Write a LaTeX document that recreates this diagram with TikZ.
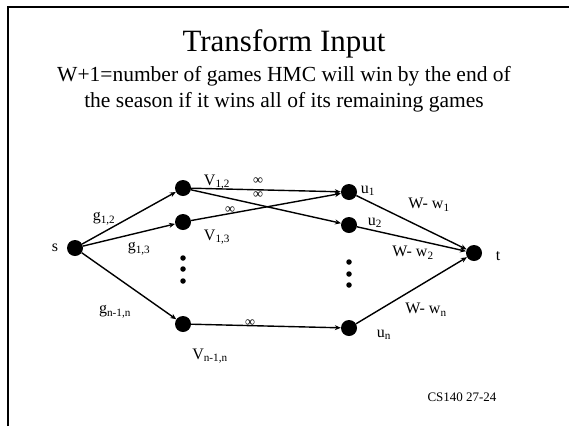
\documentclass[tikz,border=0pt]{standalone}
\usepackage{fontspec}
\setmainfont{Liberation Serif}
\usetikzlibrary{arrows.meta}
\begin{document}
\begin{tikzpicture}[x=1pt,y=-1pt,
  vertex/.style={circle,fill=black,inner sep=0pt,minimum size=16pt},
  smalldot/.style={circle,fill=black,inner sep=0pt,minimum size=5.5pt},
  flow/.style={line width=1.4pt,-{Stealth[length=6pt,width=5pt]}},
  lbl/.style={font=\fontsize{16}{18}\selectfont,inner sep=0pt},
  inf/.style={font=\fontsize{14}{16}\selectfont,inner sep=0pt}]
\useasboundingbox (0,0) rectangle (569,426);
% slide frame
\draw[line width=2pt] (8,426) -- (8,7) -- (569,7);
% headings
\node[font=\fontsize{31}{36}\selectfont] (title) at (284,44) {Transform Input};
\node[font=\fontsize{21.5}{26}\selectfont,align=center] (sub) at (284,89)
  {W+1=number of games HMC will win by the end of\\the season if it wins all of its remaining games};
% vertices
\node[vertex] (s) at (75,248) {};
\node[vertex] (v12) at (183,188) {};
\node[vertex] (v13) at (183,222) {};
\node[vertex] (vn) at (183,324) {};
\node[vertex] (u1) at (349,192) {};
\node[vertex] (u2) at (349,225) {};
\node[vertex] (un) at (349,328) {};
\node[vertex] (t) at (474,253) {};
% vertical ellipses
\node[smalldot] (d1) at (183,258) {};
\node[smalldot] (d2) at (183,269) {};
\node[smalldot] (d3) at (183,281) {};
\node[smalldot] (e1) at (349,262) {};
\node[smalldot] (e2) at (349,274) {};
\node[smalldot] (e3) at (349,285) {};
% edges
\draw[flow] (s) -- (v12);
\draw[flow] (s) -- (v13);
\draw[flow] (s) -- (vn);
\draw[flow] (v12) -- (u1);
\draw[flow] (v12) -- (u2);
\draw[flow] (v13) -- (u1);
\draw[flow] (vn) -- (un);
\draw[flow] (u1) -- (t);
\draw[flow] (u2) -- (t);
\draw[flow] (un) -- (t);
% labels
\node[lbl] (ls) at (55,248) {s};
\node[lbl] (lt) at (498,256) {t};
\node[lbl] (lg12) at (104,219) {g\textsubscript{1,2}};
\node[lbl] (lg13) at (139,249) {g\textsubscript{1,3}};
\node[lbl] (lgn) at (115,312) {g\textsubscript{n-1,n}};
\node[lbl] (lv12) at (217,182) {V\textsubscript{1,2}};
\node[lbl] (lv13) at (217,237) {V\textsubscript{1,3}};
\node[lbl] (lvn) at (210,356) {V\textsubscript{n-1,n}};
\node[lbl] (lu1) at (368,191) {u\textsubscript{1}};
\node[lbl] (lu2) at (375,223) {u\textsubscript{2}};
\node[lbl] (lun) at (384,335) {u\textsubscript{n}};
\node[lbl] (lw1) at (429,205) {W- w\textsubscript{1}};
\node[lbl] (lw2) at (413,253) {W- w\textsubscript{2}};
\node[lbl] (lwn) at (426,310) {W- w\textsubscript{n}};
\node[inf] (i1) at (258,181) {∞};
\node[inf] (i2) at (258,195) {∞};
\node[inf] (i3) at (230,210) {∞};
\node[inf] (i4) at (250,323) {∞};
\node[font=\fontsize{13}{15}\selectfont] (code) at (462,397) {CS140 27-24};
\end{tikzpicture}
\end{document}
